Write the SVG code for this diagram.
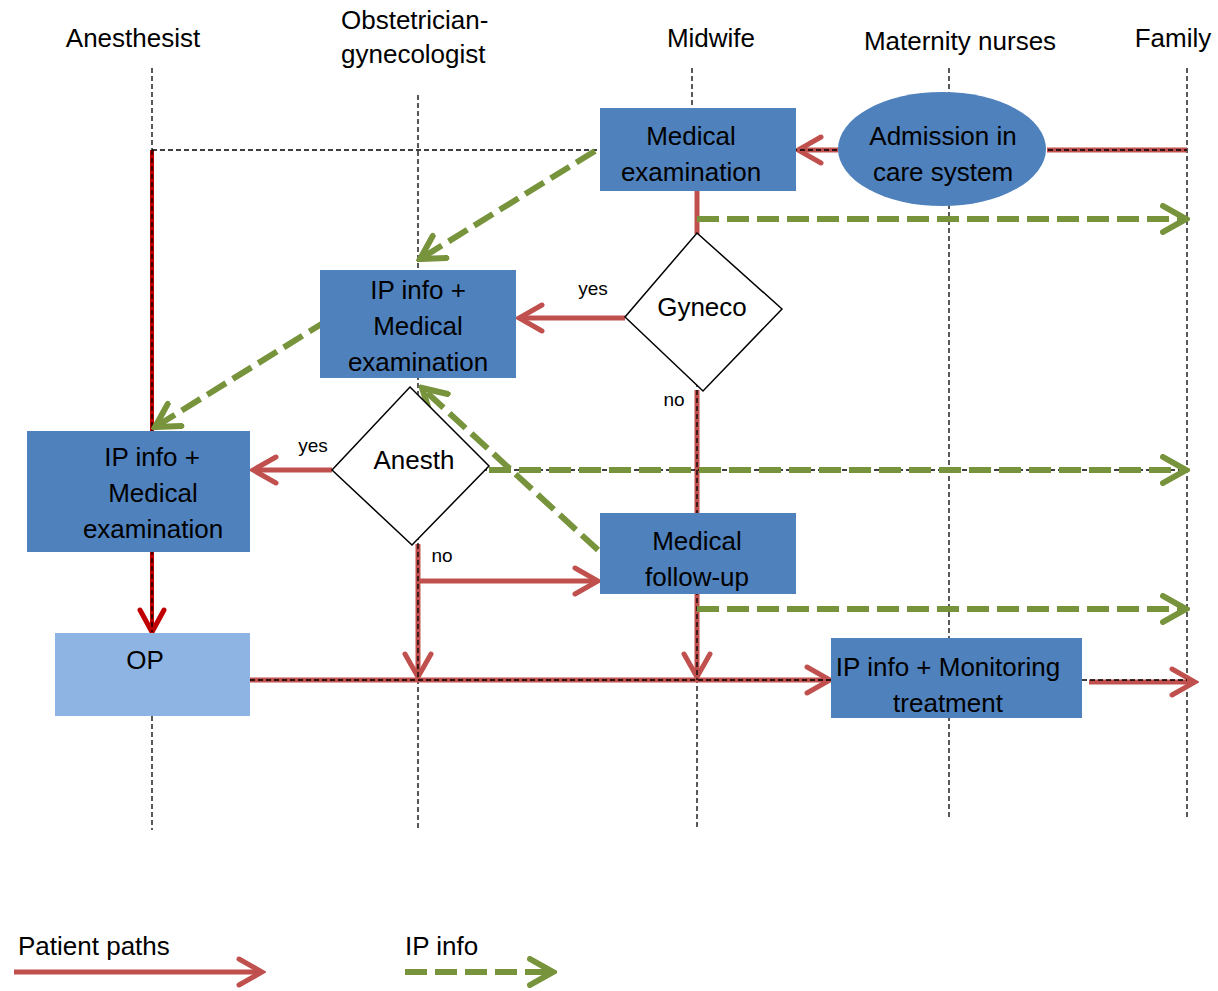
<svg xmlns="http://www.w3.org/2000/svg" width="1218" height="991" viewBox="0 0 1218 991">
  <defs>
    <style>
      .lane { stroke: #000; stroke-width: 1.3; stroke-dasharray: 5 3; fill: none; }
      .guide { stroke: #000; stroke-width: 1.3; stroke-dasharray: 5 3; fill: none; }
      .path { stroke: #c0504d; stroke-width: 5; fill: none; }
      .path-dark { stroke: #c00000; stroke-width: 4; fill: none; }
      .info { stroke: #77933c; stroke-width: 6; stroke-dasharray: 22 8; fill: none; }
      .box { fill: #4f81bd; }
      .box-light { fill: #8eb4e3; }
      .decision { fill: #fff; stroke: #000; stroke-width: 1.5; }
      text { font-family: "Liberation Sans", Arial, sans-serif; fill: #000; }
      .lbl { font-size: 26px; text-anchor: middle; }
      .small { font-size: 19px; text-anchor: middle; }
      .legend { font-size: 26px; }
    </style>
    <marker id="arrow-red" markerUnits="userSpaceOnUse" viewBox="0 0 30 32" markerWidth="30" markerHeight="32" refX="26" refY="16" orient="auto">
      <path d="M3,3 L26,16 L3,29" fill="none" stroke="#c0504d" stroke-width="5" stroke-linecap="round"/>
    </marker>
    <marker id="arrow-dark" markerUnits="userSpaceOnUse" viewBox="0 0 30 32" markerWidth="30" markerHeight="32" refX="26" refY="16" orient="auto">
      <path d="M4,4 L26,16 L4,28" fill="none" stroke="#c00000" stroke-width="5" stroke-linecap="round"/>
    </marker>
    <marker id="arrow-green" markerUnits="userSpaceOnUse" viewBox="0 0 30 32" markerWidth="30" markerHeight="32" refX="26" refY="16" orient="auto">
      <path d="M3,3 L26,16 L3,29" fill="none" stroke="#77933c" stroke-width="6" stroke-linecap="round"/>
    </marker>
  </defs>

  <rect width="1218" height="991" fill="#fff"/>

  <!-- swimlane headers -->
  <g id="lane-headers">
    <text class="lbl" x="133" y="47">Anesthesist</text>
    <text class="legend" x="341" y="29">Obstetrician-</text>
    <text class="legend" x="341" y="63">gynecologist</text>
    <text class="lbl" x="711" y="47">Midwife</text>
    <text class="lbl" x="960" y="50">Maternity nurses</text>
    <text class="lbl" x="1173" y="47">Family</text>
  </g>

  <!-- lifelines and horizontal guides -->
  <g id="lifelines">
    <line class="lane" x1="152" y1="68" x2="152" y2="830"/>
    <line class="lane" x1="418" y1="95" x2="418" y2="830"/>
    <line class="lane" x1="692" y1="68" x2="692" y2="110"/>
    <line class="lane" x1="697" y1="190" x2="697" y2="830"/>
    <line class="lane" x1="949" y1="68" x2="949" y2="820"/>
    <line class="lane" x1="1187" y1="68" x2="1187" y2="820"/>
  </g>

  <!-- connectors -->
  <g id="connectors">
    <!-- patient paths -->
    <line class="path" x1="1047" y1="150" x2="1187" y2="150"/>
    <line class="path" x1="838" y1="150" x2="798" y2="150" marker-end="url(#arrow-red)"/>
    <line class="path" x1="697" y1="190" x2="697" y2="234"/>
    <line class="path" x1="697" y1="390" x2="697" y2="677" marker-end="url(#arrow-red)"/>
    <line class="path" x1="625" y1="318" x2="519" y2="318" marker-end="url(#arrow-red)"/>
    <line class="path" x1="332" y1="470" x2="253" y2="470" marker-end="url(#arrow-red)"/>
    <line class="path" x1="418" y1="544" x2="418" y2="677" marker-end="url(#arrow-red)"/>
    <line class="path" x1="418" y1="581" x2="598" y2="581" marker-end="url(#arrow-red)"/>
    <line class="path" x1="250" y1="680" x2="830" y2="680" marker-end="url(#arrow-red)"/>
    <line class="path" x1="1089" y1="682" x2="1195" y2="682" marker-end="url(#arrow-red)"/>
    <line class="path-dark" x1="152" y1="150" x2="152" y2="431"/>
    <line class="path-dark" x1="152" y1="552" x2="152" y2="632" marker-end="url(#arrow-dark)"/>

    <!-- guide lines drawn over the paths -->
    <line class="guide" x1="152" y1="150" x2="1187" y2="150"/>
    <line class="guide" x1="418" y1="470" x2="1187" y2="470"/>
    <line class="guide" x1="250" y1="680" x2="1187" y2="680"/>
    <line class="lane" x1="152" y1="150" x2="152" y2="632"/>
    <line class="lane" x1="418" y1="544" x2="418" y2="680"/>
    <line class="lane" x1="697" y1="390" x2="697" y2="680"/>

    <!-- IP information flows -->
    <line class="info" x1="595" y1="151" x2="420" y2="259" marker-end="url(#arrow-green)"/>
    <line class="info" x1="328" y1="320" x2="155" y2="427" marker-end="url(#arrow-green)"/>
    <line class="info" x1="598" y1="550" x2="422" y2="388" marker-end="url(#arrow-green)"/>
    <line class="info" x1="697" y1="219" x2="1186" y2="219" marker-end="url(#arrow-green)"/>
    <line class="info" x1="489" y1="470" x2="1186" y2="470" marker-end="url(#arrow-green)"/>
    <line class="info" x1="697" y1="609" x2="1186" y2="609" marker-end="url(#arrow-green)"/>
  </g>

  <!-- nodes -->
  <g id="admission">
    <ellipse cx="942" cy="149" rx="104" ry="57" fill="#4f81bd"/>
    <text class="lbl" x="943" y="145">Admission in</text>
    <text class="lbl" x="943" y="181">care system</text>
  </g>
  <g id="medical-examination">
    <rect class="box" x="600" y="108" width="196" height="83"/>
    <text class="lbl" x="691" y="145">Medical</text>
    <text class="lbl" x="691" y="181">examination</text>
  </g>
  <g id="gyneco">
    <polygon class="decision" points="697,233 782,309 703,391 625,317"/>
    <text class="lbl" x="702" y="316">Gyneco</text>
    <text class="small" x="593" y="295">yes</text>
    <text class="small" x="674" y="406">no</text>
  </g>
  <g id="ob-examination">
    <rect class="box" x="320" y="270" width="196" height="108"/>
    <text class="lbl" x="418" y="299">IP info +</text>
    <text class="lbl" x="418" y="335">Medical</text>
    <text class="lbl" x="418" y="371">examination</text>
  </g>
  <g id="anesth">
    <polygon class="decision" points="410,387 489,466 412,545 332,470"/>
    <text class="lbl" x="414" y="469">Anesth</text>
    <text class="small" x="313" y="452">yes</text>
    <text class="small" x="442" y="562">no</text>
  </g>
  <g id="anesthesist-examination">
    <rect class="box" x="27" y="431" width="223" height="121"/>
    <text class="lbl" x="152" y="466">IP info +</text>
    <text class="lbl" x="153" y="502">Medical</text>
    <text class="lbl" x="153" y="538">examination</text>
  </g>
  <g id="medical-follow-up">
    <rect class="box" x="600" y="513" width="196" height="81"/>
    <text class="lbl" x="697" y="550">Medical</text>
    <text class="lbl" x="697" y="586">follow-up</text>
  </g>
  <g id="op">
    <rect class="box-light" x="55" y="633" width="195" height="83"/>
    <text class="lbl" x="145" y="669">OP</text>
  </g>
  <g id="monitoring">
    <rect class="box" x="831" y="638" width="251" height="80"/>
    <text class="lbl" x="948" y="676">IP info + Monitoring</text>
    <text class="lbl" x="948" y="712">treatment</text>
  </g>

  <!-- legend -->
  <g id="legend">
    <text class="legend" x="18" y="955">Patient paths</text>
    <line class="path" x1="14" y1="972" x2="262" y2="972" marker-end="url(#arrow-red)"/>
    <text class="legend" x="405" y="955">IP info</text>
    <line class="info" x1="405" y1="972" x2="553" y2="972" marker-end="url(#arrow-green)"/>
  </g>
</svg>
